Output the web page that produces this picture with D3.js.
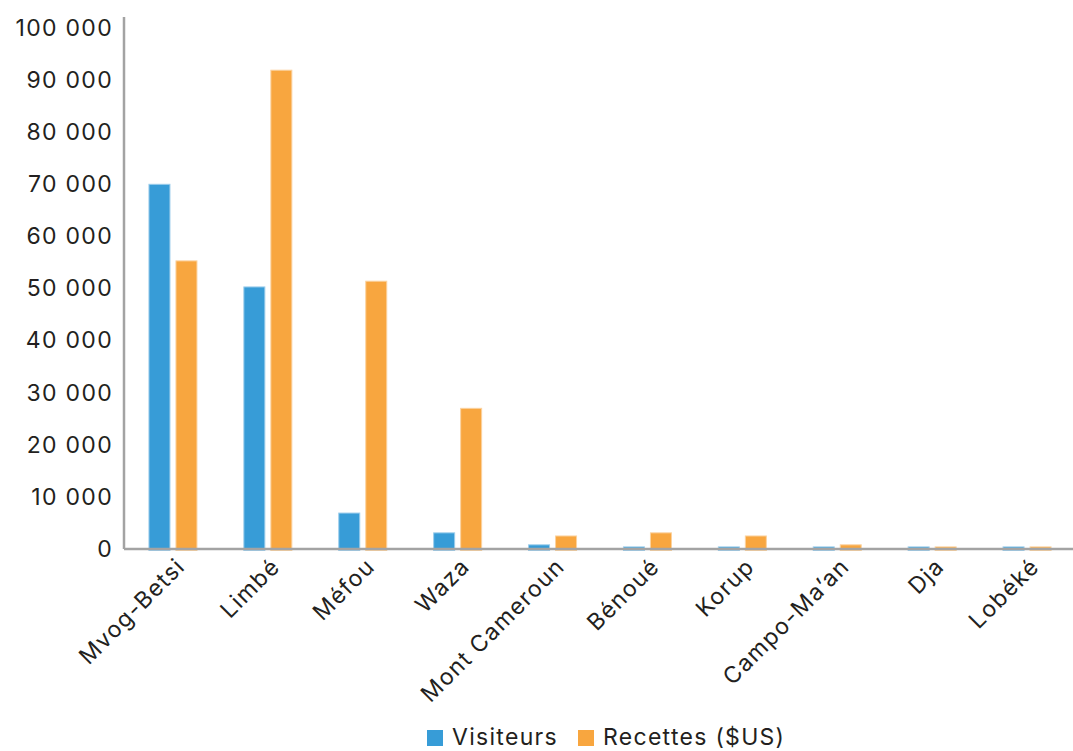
<!DOCTYPE html>
<html><head><meta charset="utf-8">
<script src="https://cdn.jsdelivr.net/npm/d3@7"></script>
<style>body{margin:0;background:#fff;}text{font-family:Inter,"Open Sans",sans-serif;fill:#231f20;letter-spacing:1.3px;}</style>
</head><body><svg id="c" width="1073" height="751"></svg>
<script>
const categories = ["Mvog-Betsi","Limbé","Méfou","Waza","Mont Cameroun","Bénoué","Korup","Campo-Ma’an","Dja","Lobéké"];
const visiteurs = [70000,50300,6900,3100,800,400,400,400,400,400];
const recettes = [55300,91900,51400,27000,2500,3100,2500,800,400,400];
const seriesNames = ["Visiteurs","Recettes ($US)"];
const colors = ["#379cd7","#f8a63f"];
const edgeColors = ["#9ccdeb","#fbd29f"];
const yTicks = [0,10000,20000,30000,40000,50000,60000,70000,80000,90000,100000];

const svg = d3.select("#c");
const x0 = 124, x1 = 1073, yb = 549, yt = 28;
const x = d3.scaleBand().domain(categories).range([x0, x1]);
const y = d3.scaleLinear().domain([0,100000]).range([yb, yt]);
const fmt = v => d3.format(",")(v).replace(/,/g, " ");

// y axis
const ya = svg.append("g").attr("transform",`translate(${x0},0)`)
  .call(d3.axisLeft(y).tickValues(yTicks).tickSize(0).tickPadding(11).tickFormat(fmt));
ya.select(".domain").remove();
ya.selectAll("text").attr("font-size",23).style("font-family","Inter,sans-serif").attr("fill","#231f20");
svg.append("line").attr("x1",x0).attr("x2",x0).attr("y1",17).attr("y2",yb).attr("stroke","#a3a3a3").attr("stroke-width",2.5);

// bars
const bw = 21, gap = 6;
const data = categories.map((c,i)=>({c, v:[visiteurs[i], recettes[i]]}));
const g = svg.append("g");
data.forEach(d=>{
  d.v.forEach((v,j)=>{
    const cx = x(d.c) + x.bandwidth()/2 + 1.5;
    const left = j===0 ? cx - gap/2 - bw : cx + gap/2;
    g.append("rect").attr("x",left).attr("width",bw)
      .attr("y",y(v)).attr("height",yb - y(v) + 1.5)
      .attr("fill",colors[j]).attr("stroke",edgeColors[j]).attr("stroke-width",1);
  });
});

// x axis line
svg.append("line").attr("x1",x0).attr("x2",x1).attr("y1",yb).attr("y2",yb).attr("stroke","#a3a3a3").attr("stroke-width",2.5);

// x labels
const xa = svg.append("g").attr("transform",`translate(0,${yb})`)
  .call(d3.axisBottom(x).tickSize(0).tickPadding(0));
xa.select(".domain").remove();
xa.selectAll("text").attr("font-size",23).attr("fill","#231f20")
  .attr("text-anchor","end").attr("dy",0).attr("y",0)
  .attr("transform","translate(15,19) rotate(-45)");

// legend
const lg = svg.append("g");
const lx = [427, 578];
seriesNames.forEach((n,i)=>{
  lg.append("rect").attr("x",lx[i]).attr("y",730).attr("width",16).attr("height",16).attr("fill",colors[i]);
  lg.append("text").attr("x",lx[i]+25).attr("y",745).attr("font-size",23).text(n);
});
</script></body></html>
